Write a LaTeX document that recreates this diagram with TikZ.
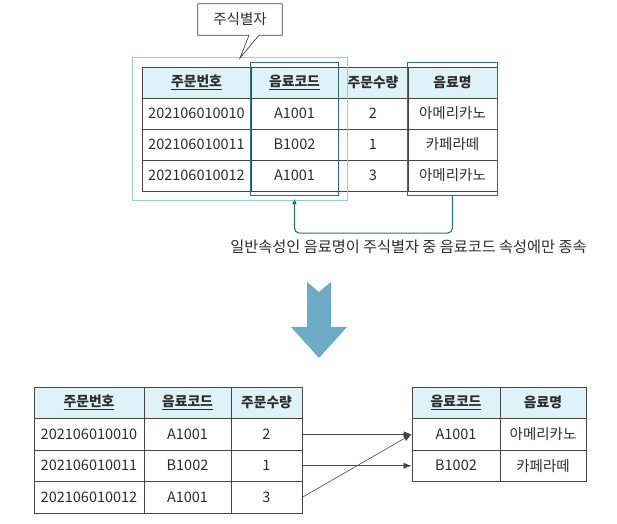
\documentclass[tikz,border=0pt]{standalone}
\usepackage{fontspec}
\setmainfont{Noto Sans CJK KR}
\usetikzlibrary{arrows.meta,fit}

\definecolor{hdrfill}{RGB}{222,242,248}
\definecolor{linegray}{RGB}{70,70,70}
\definecolor{keyteal}{RGB}{42,112,128}
\definecolor{frameblue}{RGB}{150,205,215}
\definecolor{arrowblue}{RGB}{108,170,198}
\definecolor{txtgray}{RGB}{45,45,45}

\tikzset{
  cell/.style={draw=linegray, line width=0.7pt, inner sep=0pt, minimum height=31pt,
    text=txtgray, font=\fontsize{14.5}{17}\selectfont},
  hcell/.style={cell, fill=hdrfill, font=\fontsize{13.8}{16}\selectfont\bfseries},
  colbox/.style={draw=keyteal, line width=1.5pt, inner xsep=0pt, inner ysep=4pt},
  depline/.style={draw=keyteal, line width=1.1pt, rounded corners=5pt},
  maparrow/.style={draw=linegray, line width=0.6pt, -{Latex[length=8pt,width=6pt]}}
}

\begin{document}
\begin{tikzpicture}[x=1pt, y=-1pt]
  \useasboundingbox (0,0) rectangle (617,523);

  % table before the split
  \node[hcell, minimum width=109pt] (t01) at (196.5,82.5) {\underline{주문번호}};
  \node[hcell, minimum width=87pt] (t02) at (294.5,82.5) {\underline{음료코드}};
  \node[hcell, minimum width=70pt] (t03) at (373,82.5) {주문수량};
  \node[hcell, minimum width=89pt] (t04) at (452.5,82.5) {음료명};
  \foreach \no/\code/\qty/\drink [count=\r] in
    {202106010010/A1001/2/아메리카노, 202106010011/B1002/1/카페라떼, 202106010012/A1001/3/아메리카노} {
    \node[cell, minimum width=109pt] (t\r1) at (196.5,{82.5+31*\r}) {\no};
    \node[cell, minimum width=87pt] (t\r2) at (294.5,{82.5+31*\r}) {\code};
    \node[cell, minimum width=70pt] (t\r3) at (373,{82.5+31*\r}) {\qty};
    \node[cell, minimum width=89pt] (t\r4) at (452.5,{82.5+31*\r}) {\drink};
  }

  % key frame and highlighted columns
  \node[draw=frameblue, line width=1.1pt, inner sep=9pt, fit=(t01)(t32)] (pkframe) {};
  \node[colbox, fit=(t02)(t32)] (keybox) {};
  \node[colbox, fit=(t04)(t34)] (namebox) {};

  % callout
  \node[minimum width=84pt, minimum height=31pt, inner sep=0pt] (idcallout) at (240,19.5) {};
  \coordinate (callouttip) at (240,58);
  \draw[linegray, line width=0.7pt, fill=white]
    ([xshift=9pt]idcallout.south) -- (callouttip) -- ([xshift=19pt]idcallout.south)
    -- (idcallout.south east) -- (idcallout.north east) -- (idcallout.north west)
    -- (idcallout.south west) -- cycle;
  \node[font=\fontsize{14.5}{17}\selectfont, text=txtgray] (idtext) at (idcallout) {주식별자};

  % dependency
  \draw[depline, -{Triangle[length=5pt,width=4pt]}, shorten >=3pt]
    (namebox.south) -- ++(0,37) -| (keybox.south);
  \node[font=\fontsize{15.2}{18}\selectfont, text=txtgray] (deplabel) at (408.5,247)
    {일반속성인 음료명이 주식별자 중 음료코드 속성에만 종속};

  % big arrow
  \fill[arrowblue] (307,282) -- (319,292) -- (331,282) -- (331,327) -- (347,327)
    -- (319,358) -- (291,327) -- (307,327) -- cycle;

  % order table
  \node[hcell, minimum width=110pt] (b01) at (89,402.75) {\underline{주문번호}};
  \node[hcell, minimum width=87pt] (b02) at (187.5,402.75) {\underline{음료코드}};
  \node[hcell, minimum width=71pt] (b03) at (266.5,402.75) {주문수량};
  \foreach \no/\code/\qty [count=\r] in
    {202106010010/A1001/2, 202106010011/B1002/1, 202106010012/A1001/3} {
    \node[cell, minimum width=110pt, minimum height=31.5pt] (b\r1) at (89,{402.75+31.5*\r}) {\no};
    \node[cell, minimum width=87pt, minimum height=31.5pt] (b\r2) at (187.5,{402.75+31.5*\r}) {\code};
    \node[cell, minimum width=71pt, minimum height=31.5pt] (b\r3) at (266.5,{402.75+31.5*\r}) {\qty};
  }

  % drink table
  \node[hcell, minimum width=88pt] (r01) at (456,402.75) {\underline{음료코드}};
  \node[hcell, minimum width=86pt] (r02) at (543,402.75) {음료명};
  \foreach \code/\drink [count=\r] in {A1001/아메리카노, B1002/카페라떼} {
    \node[cell, minimum width=88pt, minimum height=31.5pt] (r\r1) at (456,{402.75+31.5*\r}) {\code};
    \node[cell, minimum width=86pt, minimum height=31.5pt] (r\r2) at (543,{402.75+31.5*\r}) {\drink};
  }

  \draw[maparrow] (b13.east) -- (r11.west);
  \draw[maparrow] (b23.east) -- (r21.west);
  \draw[maparrow] (b33.east) -- (r11.west);

\end{tikzpicture}
\end{document}
